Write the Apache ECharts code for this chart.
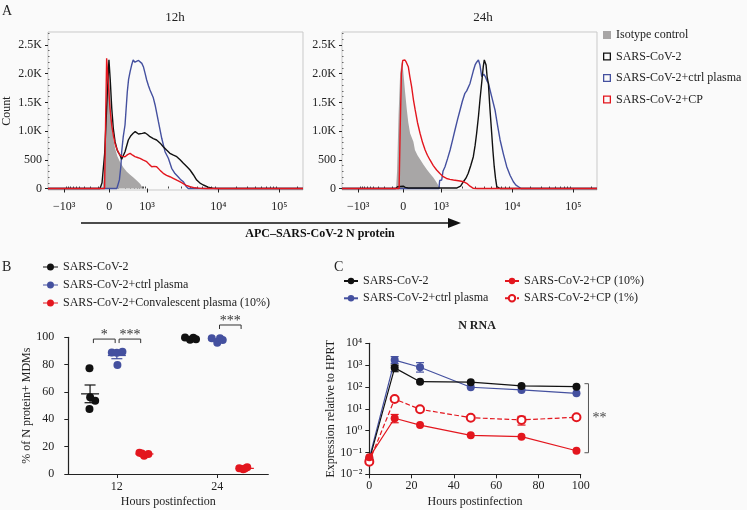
<!DOCTYPE html>
<html><head><meta charset="utf-8">
<script src="https://cdn.jsdelivr.net/npm/echarts@6/dist/echarts.min.js"></script>
<style>html,body{margin:0;padding:0;background:#fafafa}#c{width:747px;height:510px}</style>
</head><body><div id="c"></div><script>
// ---------------- Panel A: flow cytometry histograms ----------------
// x = display channel (0–1000, biexponential scale), y = event count
const flowTickValues = [63, 240, 388, 668, 907];
const flowTickLabels = ['−10³', '0', '10³', '10⁴', '10⁵'];
const countTicks = [0, 500, 1000, 1500, 2000, 2500];
const countTickLabels = ['0', '500', '1.0K', '1.5K', '2.0K', '2.5K'];

const iso12 = [[0,0],[214,0],[222,400],[229,1300],[236,2240],[240,2000],[246,1450],[250,1106],[256,870],[263,700],[272,560],[282,467],[295,370],[309,293],[322,240],[335,190],[350,130],[362,80],[372,0],[1000,0]];
const cov12 = [[0,0],[204,0],[212,100],[222,600],[232,1600],[239,2240],[244,1900],[250,1397],[256,1050],[263,815],[272,660],[282,584],[289,509],[295,540],[302,640],[315,845],[325,920],[334,962],[342,990],[348,979],[355,950],[361,932],[370,960],[380,972],[390,940],[400,902],[413,870],[426,845],[440,790],[452,728],[465,670],[478,613],[492,580],[505,554],[518,500],[531,439],[545,380],[557,322],[570,240],[583,148],[596,95],[609,61],[628,25],[648,3],[675,0],[1000,0]];
const ctrl12 = [[0,0],[270,0],[280,150],[286,400],[289,641],[295,900],[302,1106],[311,1686],[316,1900],[322,2035],[328,2150],[334,2238],[341,2200],[348,2209],[355,2230],[361,2238],[368,2180],[374,2122],[381,2000],[387,1890],[394,1790],[400,1716],[407,1700],[413,1580],[420,1455],[433,1164],[446,875],[459,641],[472,526],[485,352],[498,260],[511,200],[521,150],[531,118],[541,40],[550,0],[1000,0]];
const cp12 = [[0,0],[222,0],[226,1200],[230,2268],[234,2000],[240,1600],[243,1397],[250,1100],[256,932],[263,780],[269,700],[276,630],[282,584],[290,560],[302,554],[312,590],[322,613],[332,580],[341,554],[351,540],[361,526],[374,495],[387,467],[397,420],[407,380],[416,385],[426,380],[439,320],[452,265],[465,230],[478,205],[491,178],[507,140],[524,101],[540,60],[557,31],[576,12],[596,3],[620,0],[1000,0]];

const iso24 = [[0,0],[212,0],[216,300],[222,1300],[228,2000],[234,2209],[240,2050],[247,1700],[254,1380],[260,1150],[267,962],[280,815],[286,671],[296,580],[306,510],[319,420],[332,337],[345,260],[358,190],[366,140],[373,90],[384,0],[1000,0]];
const cov24 = [[0,0],[210,0],[218,30],[222,40],[240,40],[248,20],[260,8],[420,8],[451,10],[465,40],[476,118],[486,180],[495,265],[505,400],[515,554],[522,750],[528,962],[535,1250],[541,1542],[548,1850],[554,2122],[558,2240],[561,2268],[565,2150],[569,1950],[574,1833],[580,1400],[587,962],[592,650],[597,380],[602,180],[607,31],[613,5],[620,0],[1000,0]];
const ctrl24 = [[0,0],[380,0],[383,140],[391,148],[396,300],[404,380],[414,520],[424,671],[434,850],[443,1019],[453,1200],[463,1368],[472,1520],[482,1658],[489,1700],[495,1716],[502,1830],[509,1948],[515,2050],[522,2152],[528,2200],[535,2238],[541,2150],[548,1948],[556,1990],[562,1950],[568,1880],[574,1833],[587,1600],[600,1368],[610,1100],[620,845],[633,600],[646,380],[659,230],[672,118],[682,60],[692,31],[702,0],[1000,0]];
const cp24 = [[0,0],[224,0],[228,1000],[233,2000],[238,2230],[247,2238],[252,2200],[260,2122],[266,1950],[273,1774],[280,1550],[287,1368],[296,1150],[306,962],[316,800],[326,671],[335,580],[345,497],[358,400],[371,322],[384,260],[397,206],[410,175],[423,160],[437,148],[450,140],[463,130],[476,118],[489,90],[502,40],[515,3],[530,0],[1000,0]];

// ---------------- Panel B: % N protein+ MDMs ----------------
const bHours = [12, 24];
const pctCov  = [[77.3, 56.1, 53.6, 47.5], [99.8, 98.2, 99.7, 98.5]];
const pctCtrl = [[88.8, 88.7, 89.5, 79.7], [99.3, 96.1, 99.3, 98.0]];
const pctCP   = [[15.6, 13.4, 14.6, 15.0], [4.2, 3.4, 4.9, 4.0]];
const bSig = [['*', 0, 1, 0], ['***', 1, 2, 0], ['***', 1, 2, 1]]; // text, group a, group b, hour index

// ---------------- Panel C: N RNA ----------------
const cHours = [0, 12, 24, 48, 72, 98];
const nCov  = [0.045, 750, 175, 165, 112, 103];
const nCtrl = [0.054, 1700, 800, 97, 73, 51];
const nCP10 = [0.06, 3.7, 1.8, 0.61, 0.53, 0.12];
const nCP1  = [0.038, 28, 9.5, 3.9, 3.1, 4.1];
const nCovErr  = [null, [500, 1000], null, null, null, null];
const nCtrlErr = [null, [1200, 2450], [480, 1300], null, null, null];
const nCP10Err = [null, [2.3, 5.5], null, null, null, null];
const nCP1Err  = [null, null, null, null, [1.8, 4.5], null];

// ---------------- styling ----------------
const SERIF = "'Liberation Serif','DejaVu Serif',serif";
const TXT = '#222';
const BLACK = '#111', BLUE = '#44509f', RED = '#e3161e', GRAY = '#a8a6a6';
const SUPS = {'-':'⁻','0':'⁰','1':'¹','2':'²','3':'³','4':'⁴','5':'⁵'};
const sup = n => String(n).split('').map(c => SUPS[c]).join('');
const strip = n => n.split('|')[0];

const flowMinor = (() => {
  const [pN, p0, p3, p4, p5] = flowTickValues, out = [];
  const a = Math.asinh(1000 / 150);
  for (let v = 100; v < 1000; v += 100) {
    const f = Math.asinh(v / 150) / a;
    out.push(p0 + (p3 - p0) * f, p0 - (p0 - pN) * f);
  }
  for (let m = 2; m <= 9; m++) {
    const l = Math.log10(m);
    out.push(p3 + (p4 - p3) * l, p4 + (p5 - p4) * l, p5 + (p5 - p4) * l);
  }
  return out.filter(v => v > 0 && v < 1000);
})();
const countMinor = [];
for (let v = 100; v <= 2700; v += 100) if (v % 500) countMinor.push(v);

const lbl = {fontFamily: SERIF, fontSize: 12, color: TXT};

function flowAxes(gi) {
  const x = [
    {gridIndex: gi, type: 'value', min: 0, max: 1000, axisLine: {show: false}, splitLine: {show: false},
     axisTick: {show: true, customValues: flowTickValues, length: 4, lineStyle: {color: '#222'}},
     axisLabel: Object.assign({customValues: flowTickValues, margin: 11,
       formatter: v => flowTickLabels[flowTickValues.indexOf(v)]}, lbl)},
    {gridIndex: gi, type: 'value', min: 0, max: 1000, axisLine: {show: false}, splitLine: {show: false},
     axisTick: {show: true, customValues: flowMinor, length: 2, lineStyle: {color: '#444'}}, axisLabel: {show: false}}
  ];
  const y = [
    {gridIndex: gi, type: 'value', min: -26, max: 2726, axisLine: {show: false}, splitLine: {show: false},
     axisTick: {show: true, customValues: countTicks, length: 3, lineStyle: {color: '#222'}},
     axisLabel: Object.assign({customValues: countTicks, margin: 6,
       formatter: v => countTickLabels[countTicks.indexOf(v)]}, lbl),
     name: gi === 0 ? 'Count' : '', nameLocation: 'middle', nameGap: 35, nameTextStyle: lbl},
    {gridIndex: gi, type: 'value', min: -26, max: 2726, axisLine: {show: false}, splitLine: {show: false},
     axisTick: {show: true, customValues: countMinor, length: 1.5, lineStyle: {color: '#666'}}, axisLabel: {show: false}}
  ];
  return {x, y};
}
const fa0 = flowAxes(0), fa1 = flowAxes(1);

function hist(name, data, color, ax, area) {
  return {type: 'line', name, data, xAxisIndex: ax, yAxisIndex: ax, color, symbol: 'none', silent: true,
    lineStyle: area ? {width: 0, opacity: 0} : {width: 1.4, color},
    areaStyle: area ? {color, opacity: 1} : undefined, z: area ? 1 : 2};
}

// B scatter positions: group offset (hours) and per-point jitter
const bOffset = [-3.2, 0, 3.3];
const bJitter = [
  [[-0.07, 0.01, 0.61, -0.07], [-0.65, -0.05, 0.34, 0.66]],
  [[-0.6, 0, 0.67, 0.07], [-0.66, 0, 0.33, 0.65]],
  [[-0.6, -0.04, 0.47, -0.3], [-0.67, -0.2, 0.28, 0]]
];
const bSets = [pctCov, pctCtrl, pctCP];
const bColors = [BLACK, BLUE, RED];
const bNames = ['SARS-CoV-2|B', 'SARS-CoV-2+ctrl plasma|B', 'SARS-CoV-2+Convalescent plasma (10%)|B'];
function bPoints(g) {
  const pts = [];
  bHours.forEach((h, hi) => bSets[g][hi].forEach((v, i) => pts.push([h + bOffset[g] + bJitter[g][hi][i], v])));
  return pts;
}
const bStats = [];
bSets.forEach((set, g) => bHours.forEach((h, hi) => {
  const a = set[hi], m = a.reduce((s, v) => s + v, 0) / a.length;
  const sd = Math.sqrt(a.reduce((s, v) => s + (v - m) ** 2, 0) / (a.length - 1));
  bStats.push([h + bOffset[g], m, sd / Math.sqrt(a.length), g]);
}));

const LEG_ICON_B = 'path://M0,4.4H15V5.4H0Z M7.5,1.4A3.5,3.5,0,1,1,7.49,1.4Z';
const SQ_OUT = 'path://M0,0H10V10H0Z M1.6,1.6V8.4H8.4V1.6Z';

const cSeries = [
  {name: 'SARS-CoV-2+ctrl plasma|C', vals: nCtrl, err: nCtrlErr, color: BLUE, dash: 'solid', sym: 'circle'},
  {name: 'SARS-CoV-2|C', vals: nCov, err: nCovErr, color: BLACK, dash: 'solid', sym: 'circle'},
  {name: 'SARS-CoV-2+CP (1%)|C', vals: nCP1, err: nCP1Err, color: RED, dash: 'dashed', sym: 'emptyCircle'},
  {name: 'SARS-CoV-2+CP (10%)|C', vals: nCP10, err: nCP10Err, color: RED, dash: 'solid', sym: 'circle'}
];
const cErrData = [];
cSeries.forEach((s, si) => s.err.forEach((e, i) => { if (e) cErrData.push([cHours[i], e[0], e[1], si]); }));

const chart = echarts.init(document.getElementById('c'), null, {renderer: 'canvas'});
const option = {
  backgroundColor: '#fafafa',
  animation: false,
  textStyle: {fontFamily: SERIF},
  title: [
    {text: 'A', left: 2, top: 4, padding: 0, textStyle: {fontFamily: SERIF, fontSize: 14, fontWeight: 'normal', color: TXT}},
    {text: '12h', left: 175, top: 11, textAlign: 'center', padding: 0, textStyle: {fontFamily: SERIF, fontSize: 13, fontWeight: 'normal', color: TXT}},
    {text: '24h', left: 483, top: 11, textAlign: 'center', padding: 0, textStyle: {fontFamily: SERIF, fontSize: 13, fontWeight: 'normal', color: TXT}},
    {text: 'B', left: 2, top: 260, padding: 0, textStyle: {fontFamily: SERIF, fontSize: 14, fontWeight: 'normal', color: TXT}},
    {text: 'C', left: 334, top: 260, padding: 0, textStyle: {fontFamily: SERIF, fontSize: 14, fontWeight: 'normal', color: TXT}},
    {text: 'N RNA', left: 477, top: 320, textAlign: 'center', padding: 0, textStyle: {fontFamily: SERIF, fontSize: 12, fontWeight: 'bold', color: TXT}}
  ],
  legend: [
    {orient: 'vertical', left: 603, top: 29, padding: 0, itemWidth: 8, itemHeight: 8, itemGap: 9.5,
     textStyle: {fontFamily: SERIF, fontSize: 12, color: TXT, lineHeight: 12}, itemStyle: {borderWidth: 0},
     formatter: strip, selectedMode: false,
     data: [{name: 'Isotype control|A', icon: 'rect'}, {name: 'SARS-CoV-2|A', icon: SQ_OUT},
            {name: 'SARS-CoV-2+ctrl plasma|A', icon: SQ_OUT}, {name: 'SARS-CoV-2+CP|A', icon: SQ_OUT}]},
    {orient: 'vertical', left: 43, top: 261, padding: 0, itemWidth: 15, itemHeight: 7, itemGap: 6,
     textStyle: {fontFamily: SERIF, fontSize: 12, color: TXT, lineHeight: 12}, itemStyle: {borderWidth: 0},
     formatter: strip, selectedMode: false,
     data: bNames.map(n => ({name: n, icon: LEG_ICON_B}))},
    {orient: 'vertical', left: 343, top: 275, padding: 0, itemWidth: 14, itemHeight: 8, itemGap: 5.3,
     textStyle: {fontFamily: SERIF, fontSize: 12, color: TXT, lineHeight: 12},
     formatter: strip, selectedMode: false, data: ['SARS-CoV-2|C', 'SARS-CoV-2+ctrl plasma|C']},
    {orient: 'vertical', left: 504, top: 275, padding: 0, itemWidth: 14, itemHeight: 8, itemGap: 5.3,
     textStyle: {fontFamily: SERIF, fontSize: 12, color: TXT, lineHeight: 12},
     formatter: strip, selectedMode: false, data: ['SARS-CoV-2+CP (10%)|C', 'SARS-CoV-2+CP (1%)|C']}
  ],
  grid: [
    {left: 48, top: 32, width: 255, height: 158, show: true, borderColor: '#c9c9c9', borderWidth: 1, backgroundColor: 'transparent'},
    {left: 342, top: 32, width: 255, height: 158, show: true, borderColor: '#c9c9c9', borderWidth: 1, backgroundColor: 'transparent'},
    {left: 68.3, top: 337.3, width: 200, height: 136.7},
    {left: 369.3, top: 343.3, width: 211.4, height: 131}
  ],
  xAxis: [
    ...fa0.x.map(a => Object.assign(a, {gridIndex: 0})),
    ...fa1.x.map(a => Object.assign(a, {gridIndex: 1})),
    {gridIndex: 2, type: 'value', min: 6.2, max: 30.1, splitLine: {show: false},
     axisLine: {lineStyle: {color: '#222', width: 1.2}},
     axisTick: {customValues: bHours, length: 4, lineStyle: {color: '#222'}},
     axisLabel: Object.assign({customValues: bHours, margin: 7}, lbl),
     name: 'Hours postinfection', nameLocation: 'middle', nameGap: 22, nameTextStyle: lbl},
    {gridIndex: 3, type: 'value', min: 0, max: 100, interval: 20, splitLine: {show: false},
     axisLine: {lineStyle: {color: '#222', width: 1.2}},
     axisTick: {length: 4, lineStyle: {color: '#222'}},
     axisLabel: Object.assign({margin: 6}, lbl),
     name: 'Hours postinfection', nameLocation: 'middle', nameGap: 22, nameTextStyle: lbl}
  ],
  yAxis: [
    ...fa0.y.map(a => Object.assign(a, {gridIndex: 0})),
    ...fa1.y.map(a => Object.assign(a, {gridIndex: 1})),
    {gridIndex: 2, type: 'value', min: 0, max: 100, interval: 20, splitLine: {show: false},
     axisLine: {show: true, lineStyle: {color: '#222', width: 1.2}},
     axisTick: {show: true, length: 4, lineStyle: {color: '#222'}},
     axisLabel: Object.assign({margin: 14}, lbl),
     name: '% of N protein+ MDMs', nameLocation: 'middle', nameGap: 24, nameTextStyle: lbl},
    {gridIndex: 3, type: 'log', logBase: 10, min: 0.01, max: 10000, splitLine: {show: false},
     axisLine: {show: true, lineStyle: {color: '#222', width: 1.2}},
     axisTick: {show: true, customValues: [0.01, 0.1, 1, 10, 100, 1000, 10000], length: 4, lineStyle: {color: '#222'}},
     axisLabel: Object.assign({customValues: [0.01, 0.1, 1, 10, 100, 1000, 10000], margin: 7,
       formatter: v => '10' + sup(Math.round(Math.log10(v)))}, lbl),
     minorTick: {show: false},
     name: 'Expression relative to HPRT', nameLocation: 'middle', nameGap: 27, nameTextStyle: lbl}
  ],
  graphic: [
    {type: 'line', shape: {x1: 81, y1: 223, x2: 452, y2: 223}, style: {stroke: '#111', lineWidth: 1.6}},
    {type: 'polygon', shape: {points: [[448, 218], [461, 223], [448, 228]]}, style: {fill: '#111'}},
    {type: 'text', x: 320, y: 234, style: {text: 'APC–SARS-CoV-2 N protein', font: "bold 12px 'Liberation Serif', serif", fill: '#111', textAlign: 'center', textVerticalAlign: 'middle'}}
  ],
  series: [
    hist('Isotype control|A', iso12, GRAY, 0, true),
    hist('SARS-CoV-2+ctrl plasma|A', ctrl12, BLUE, 0),
    hist('SARS-CoV-2|A', cov12, BLACK, 0),
    hist('SARS-CoV-2+CP|A', cp12, RED, 0),
    hist('Isotype control|A', iso24, GRAY, 2, true),
    hist('SARS-CoV-2+ctrl plasma|A', ctrl24, BLUE, 2),
    hist('SARS-CoV-2|A', cov24, BLACK, 2),
    hist('SARS-CoV-2+CP|A', cp24, RED, 2),
    // B mean ± SEM
    {type: 'custom', name: 'meanSEM', xAxisIndex: 4, yAxisIndex: 4, data: bStats, z: 3, silent: true,
     renderItem(params, api) {
       const c = api.coord([api.value(0), api.value(1)]);
       const hi = api.coord([api.value(0), api.value(1) + api.value(2)]);
       const lo = api.coord([api.value(0), api.value(1) - api.value(2)]);
       const col = bColors[api.value(3)];
       const st = {stroke: col, lineWidth: 1.2, fill: null};
       return {type: 'group', children: [
         {type: 'line', shape: {x1: c[0] - 9, y1: c[1], x2: c[0] + 9, y2: c[1]}, style: st},
         {type: 'line', shape: {x1: c[0], y1: hi[1], x2: c[0], y2: lo[1]}, style: st},
         {type: 'line', shape: {x1: c[0] - 5.5, y1: hi[1], x2: c[0] + 5.5, y2: hi[1]}, style: st},
         {type: 'line', shape: {x1: c[0] - 5.5, y1: lo[1], x2: c[0] + 5.5, y2: lo[1]}, style: st}
       ]};
     }},
    ...bNames.map((n, g) => ({type: 'scatter', name: n, xAxisIndex: 4, yAxisIndex: 4, data: bPoints(g),
      symbolSize: 8, itemStyle: {color: bColors[g], opacity: 1}, color: bColors[g], z: 4})),
    // B significance brackets
    {type: 'custom', name: 'sigB', xAxisIndex: 4, yAxisIndex: 4, clip: false, silent: true, z: 5,
     data: bSig.map((s, i) => [i]),
     renderItem(params, api) {
       const s = bSig[params.dataIndex];
       const h = bHours[s[3]];
       const ga = bSets[s[1]][s[3]], gb = bSets[s[2]][s[3]];
       const top = Math.max(...ga, ...gb, 98) + (s[3] === 1 ? 9 : 0) + 0.7;
       const a = api.coord([h + bOffset[s[1]] + (s[1] === 0 ? 0.4 : 0.27), top]);
       const b = api.coord([h + bOffset[s[2]] - (s[2] === 1 ? 0.2 : 0.45), top]);
       return {type: 'group', children: [
         {type: 'polyline', shape: {points: [[a[0], a[1] + 4], [a[0], a[1]], [b[0], b[1]], [b[0], b[1] + 4]]},
          style: {stroke: '#333', lineWidth: 1, fill: null}},
         {type: 'text', x: (a[0] + b[0]) / 2, y: a[1] + 3, style: {text: s[0], font: "14px 'Liberation Serif', serif", fill: '#333', textAlign: 'center', textVerticalAlign: 'bottom'}}
       ]};
     }},
    // C error bars
    {type: 'custom', name: 'errC', xAxisIndex: 5, yAxisIndex: 5, data: cErrData, z: 2, silent: true,
     renderItem(params, api) {
       const lo = api.coord([api.value(0), api.value(1)]);
       const hi = api.coord([api.value(0), api.value(2)]);
       const col = cSeries[api.value(3)].color;
       const st = {stroke: col, lineWidth: 1.2, fill: null};
       return {type: 'group', children: [
         {type: 'line', shape: {x1: lo[0], y1: lo[1], x2: hi[0], y2: hi[1]}, style: st},
         {type: 'line', shape: {x1: lo[0] - 4, y1: lo[1], x2: lo[0] + 4, y2: lo[1]}, style: st},
         {type: 'line', shape: {x1: hi[0] - 4, y1: hi[1], x2: hi[0] + 4, y2: hi[1]}, style: st}
       ]};
     }},
    ...cSeries.map(s => ({type: 'line', name: s.name, xAxisIndex: 5, yAxisIndex: 5, color: s.color,
      data: cHours.map((h, i) => [h, s.vals[i]]), symbol: s.sym, symbolSize: 8, showSymbol: true,
      lineStyle: {color: s.color, width: 1.2, type: s.dash},
      itemStyle: {color: s.color, borderColor: s.color, borderWidth: s.sym === 'emptyCircle' ? 1.2 : 0},
      z: 3})),
    // C significance bracket
    {type: 'custom', name: 'sigC', xAxisIndex: 5, yAxisIndex: 5, clip: false, silent: true, z: 5, data: [[0]],
     renderItem(params, api) {
       const last = cHours.length - 1;
       const top = api.coord([cHours[last], nCov[last]]);
       const bot = api.coord([cHours[last], nCP10[last]]);
       const x = top[0] + 12;
       return {type: 'group', children: [
         {type: 'polyline', shape: {points: [[x - 4, top[1] - 3], [x, top[1] - 3], [x, bot[1] + 2], [x - 4, bot[1] + 2]]},
          style: {stroke: '#555', lineWidth: 1, fill: null}},
         {type: 'text', x: x + 11, y: (top[1] + bot[1]) / 2, style: {text: '**', font: "14px 'Liberation Serif', serif", fill: '#444', textAlign: 'center', textVerticalAlign: 'middle'}}
       ]};
     }}
  ]
};
chart.setOption(option);
</script></body></html>
